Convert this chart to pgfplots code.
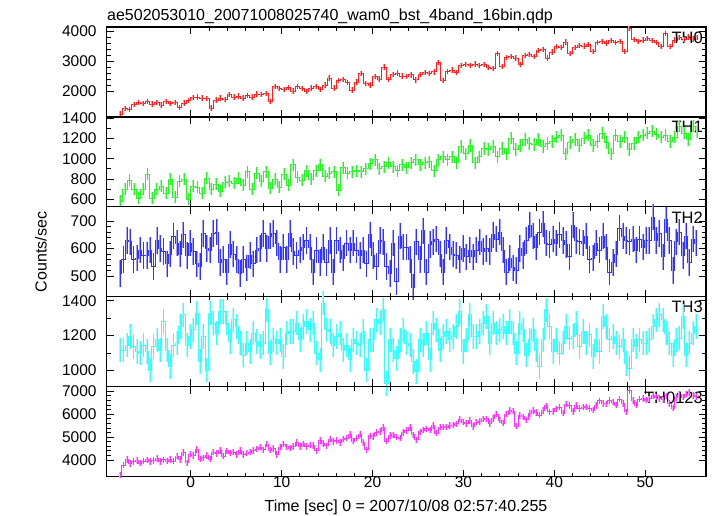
\documentclass[border=0pt]{standalone}
\usepackage{pgfplots}
\usepackage{pgfplotstable}
\pgfplotsset{compat=1.18}
\usepackage{fontspec}
\setmainfont{Liberation Sans}
\definecolor{c0}{rgb}{1,0.12,0.12}
\definecolor{c1}{rgb}{0.15,0.95,0.15}
\definecolor{c2}{rgb}{0.2,0.2,1}
\definecolor{c3}{rgb}{0.2,1,1}
\definecolor{c4}{rgb}{1,0.2,1}

\pgfplotstableread{
t v
-7.75 1230
-7.25 1420
-6.75 1380
-6.25 1540
-5.75 1620
-5.25 1590
-4.75 1640
-4.25 1560
-3.75 1610
-3.25 1530
-2.75 1650
-2.25 1580
-1.75 1620
-1.25 1450
-0.75 1600
-0.25 1680
0.25 1780
0.75 1800
1.25 1760
1.75 1740
2.25 1430
2.75 1700
3.25 1760
3.75 1720
4.25 1880
4.75 1800
5.25 1830
5.75 1760
6.25 1850
6.75 1800
7.25 1900
7.75 1880
8.25 1920
8.75 1650
9.25 2150
9.75 2080
10.25 2050
10.75 2120
11.25 2000
11.75 2150
12.25 2080
12.75 1980
13.25 2100
13.75 2150
14.25 2050
14.75 2200
15.25 2430
15.75 2100
16.25 2350
16.75 2380
17.25 2280
17.75 2030
18.25 2300
18.75 2590
19.25 2250
19.75 2200
20.25 2480
20.75 2400
21.25 2800
21.75 2380
22.25 2550
22.75 2600
23.25 2500
23.75 2480
24.25 2540
24.75 2370
25.25 2560
25.75 2620
26.25 2580
26.75 2640
27.25 2950
27.75 2350
28.25 2650
28.75 2700
29.25 2620
29.75 2850
30.25 2880
30.75 2860
31.25 2900
31.75 2850
32.25 2880
32.75 2780
33.25 2760
33.75 3250
34.25 2820
34.75 3120
35.25 3150
35.75 3100
36.25 2880
36.75 3180
37.25 3220
37.75 3150
38.25 3350
38.75 3380
39.25 3100
39.75 3300
40.25 3480
40.75 3450
41.25 3640
41.75 3250
42.25 3450
42.75 3530
43.25 3500
43.75 3560
44.25 3310
44.75 3620
45.25 3650
45.75 3600
46.25 3680
46.75 3620
47.25 3660
47.75 3310
48.25 4080
48.75 3720
49.25 3650
49.75 3700
50.25 3760
50.75 3680
51.25 3620
51.75 3480
52.25 3920
52.75 3480
53.25 3700
53.75 3780
54.25 3720
54.75 3800
55.25 3740
55.75 3780
}\tzero

\pgfplotstableread{
t v
-7.75 580
-7.25 700
-6.75 790
-6.25 700
-5.75 610
-5.25 700
-4.75 850
-4.25 610
-3.75 700
-3.25 730
-2.75 660
-2.25 800
-1.75 620
-1.25 780
-0.75 800
-0.25 600
0.25 730
0.75 720
1.25 660
1.75 810
2.25 700
2.75 750
3.25 680
3.75 770
4.25 780
4.75 760
5.25 810
5.75 740
6.25 870
6.75 700
7.25 860
7.75 780
8.25 870
8.75 710
9.25 800
9.75 720
10.25 850
10.75 740
11.25 940
11.75 820
12.25 790
12.75 880
13.25 800
13.75 880
14.25 940
14.75 830
15.25 860
15.75 870
16.25 690
16.75 910
17.25 860
17.75 870
18.25 880
18.75 870
19.25 900
19.75 950
20.25 990
20.75 900
21.25 920
21.75 960
22.25 920
22.75 880
23.25 940
23.75 910
24.25 960
24.75 990
25.25 940
25.75 960
26.25 970
26.75 880
27.25 990
27.75 1020
28.25 990
28.75 1020
29.25 960
29.75 1120
30.25 1050
30.75 1130
31.25 960
31.75 1020
32.25 1100
32.75 1090
33.25 1120
33.75 1020
34.25 1100
34.75 1050
35.25 1200
35.75 1090
36.25 1130
36.75 1190
37.25 1150
37.75 1140
38.25 1190
38.75 1120
39.25 1150
39.75 1170
40.25 1210
40.75 1230
41.25 1050
41.75 1160
42.25 1190
42.75 1130
43.25 1200
43.75 1230
44.25 1130
44.75 1170
45.25 1250
45.75 1160
46.25 1050
46.75 1230
47.25 1170
47.75 1210
48.25 1090
48.75 1150
49.25 1210
49.75 1230
50.25 1250
50.75 1270
51.25 1240
51.75 1210
52.25 1230
52.75 1170
53.25 1210
53.75 1320
54.25 1250
54.75 1190
55.25 1320
55.75 1260
}\tone

\pgfplotstableread{
t a b c
-7.77 510 1117 3350
-7.40 560 1117 3780
-7.04 630 1146 4020
-6.67 625 1194 3850
-6.31 560 1137 3940
-5.94 565 1108 3990
-5.57 595 1098 3870
-5.21 575 1146 3950
-4.84 575 1108 4010
-4.47 595 1002 3930
-4.11 535 1137 3990
-3.74 630 1175 4060
-3.37 600 1117 3940
-3.01 590 1280 4010
-2.64 545 1117 3950
-2.28 580 1021 4020
-1.91 645 1146 3960
-1.54 620 1156 4180
-1.18 580 1252 4030
-0.81 650 1319 4330
-0.44 575 1146 3880
-0.08 620 1194 4260
0.29 590 1233 4200
0.65 545 1329 4460
1.02 535 1050 4050
1.39 655 1194 4100
1.75 600 1002 4200
2.12 595 1329 4040
2.49 655 1271 4340
2.85 660 1213 4290
3.22 550 1338 4410
3.59 560 1338 4170
3.95 515 1271 4400
4.32 615 1165 4300
4.68 580 1290 4350
5.05 560 1252 4240
5.42 510 1156 4410
5.78 560 1088 4250
6.15 530 1156 4300
6.52 575 1108 4350
6.88 545 1213 4420
7.25 595 1165 4480
7.61 600 1137 4560
7.98 655 1156 4450
8.35 600 1348 4700
8.71 645 1098 4440
9.08 655 1175 4510
9.45 620 1156 4250
9.81 560 1175 4570
10.18 605 1079 4700
10.55 560 1213 4580
10.91 655 1223 4520
11.28 590 1223 4590
11.64 575 1271 4770
12.01 595 1175 4600
12.38 605 1252 4710
12.74 630 1280 4600
13.11 605 1233 4660
13.48 515 1271 4640
13.84 595 1098 4400
14.21 550 1060 4850
14.57 605 1386 4730
14.94 550 1233 4620
15.31 630 1223 4920
15.67 515 1146 4800
16.04 630 1194 4850
16.41 595 1213 4760
16.77 565 1117 4920
17.14 620 1146 4950
17.50 595 1060 5120
17.87 620 1175 4820
18.24 595 1156 4950
18.60 575 1146 5130
18.97 595 1223 4760
19.34 545 1002 4450
19.70 650 1175 5060
20.07 575 1175 5020
20.44 535 1290 5200
20.80 630 1271 5240
21.17 625 1348 5420
21.53 535 925 4820
21.90 510 1175 5070
22.27 620 1117 5100
22.63 480 1069 5000
23.00 645 1175 4950
23.37 605 1233 5210
23.73 605 1156 5290
24.10 560 1146 5410
24.47 460 1050 5100
24.83 625 992 4880
25.20 560 1175 5230
25.56 665 1146 5300
25.93 515 1213 5360
26.30 615 1060 5310
26.66 625 1271 5500
27.03 635 1233 5180
27.40 580 1117 5430
27.76 515 1194 5450
28.13 630 1223 5440
28.49 605 1175 5510
28.86 580 1194 5520
29.23 575 1252 5580
29.59 560 1338 5780
29.96 600 1108 5660
30.33 570 1175 5600
30.69 595 1319 5720
31.06 570 1194 5470
31.42 595 1194 5650
31.79 625 1223 5670
32.16 590 1271 5790
32.52 600 1310 5800
32.89 590 1156 5600
33.26 650 1271 5810
33.62 635 1213 6000
33.99 660 1233 5740
34.36 595 1252 5610
34.72 515 1213 6010
35.09 565 1280 6150
35.45 530 1213 6140
35.82 520 1098 5480
36.19 600 1271 5940
36.55 575 1233 5880
36.92 630 1088 5750
37.29 685 1175 6020
37.65 645 1233 6150
38.02 605 1117 6080
38.38 660 1021 5960
38.75 690 1175 6150
39.12 620 1348 6360
39.48 615 1252 6100
39.85 635 1108 6110
40.22 620 1175 6230
40.58 650 1098 6300
40.95 630 1156 6050
41.32 615 1252 6440
41.68 570 1185 6370
42.05 685 1194 6110
42.41 630 1271 6370
42.78 625 1137 6240
43.15 620 1223 6300
43.51 645 1156 6320
43.88 560 1204 6250
44.25 565 1079 6180
44.61 620 1175 6370
44.98 595 1108 6580
45.34 645 1310 6460
45.71 605 1252 6450
46.08 515 1175 6590
46.44 550 1194 6520
46.81 580 1156 6400
47.18 675 1137 6660
47.54 645 1175 6460
47.91 630 1040 6100
48.27 625 1012 7020
48.64 635 1175 6600
49.01 595 1137 6400
49.37 635 1175 6660
49.74 605 1156 6680
50.11 630 1156 6610
50.47 630 1175 6670
50.84 715 1252 6800
51.21 630 1290 6740
51.57 655 1319 6680
51.94 570 1290 6620
52.30 705 1213 6800
52.67 630 1156 6470
53.04 520 1088 6260
53.40 625 1175 6730
53.77 660 1185 6870
54.14 575 1310 6750
54.50 645 1088 6870
54.87 550 1156 6950
55.24 635 1213 6820
55.60 620 1252 6760
}\tmix

\newcommand{\fs}{\fontsize{15.5}{18}\selectfont}
\newcommand{\fl}{\fontsize{16}{18}\selectfont}

\pgfplotsset{
  panel/.style={
    scale only axis, width=599.3pt, height=89.9pt, anchor=south west,
    xmin=-9.25, xmax=56.7,
    xtick={0,10,20,30,40,50}, minor x tick num=4,
    xticklabels={},
    scaled y ticks=false,
    tick align=inside,
    major tick length=7pt, minor tick length=4pt,
    every tick/.style={black, line width=0.8pt},
    axis line style={black, line width=1.2pt},
    tick label style={font=\fs, /pgf/number format/assume math mode=true, /pgf/number format/1000 sep={}},
    yticklabel style={anchor=east, inner sep=0pt, xshift=-10pt},
    xticklabel style={anchor=north, inner sep=0pt, yshift=0pt},
  },
  ebl/.style 2 args={only marks, forget plot, color=#1!45, mark=|, mark size=#2,
    mark options={line width=1.8pt}},
  ebd/.style 2 args={only marks, forget plot, color=#1, mark=|, mark size=#2,
    mark options={line width=0.4pt}},
  stp/.style={const plot mark mid, no marks, forget plot, color=#1, line width=0.8pt},
}

\begin{document}
\begin{tikzpicture}
\path[use as bounding box] (0,0) rectangle (717pt,516pt);

\begin{axis}[panel, at={(106.7pt,399pt)}, ymin=1130, ymax=4135,
  ytick={2000,3000,4000}, minor y tick num=4]
\addplot[ebl={c0}{2.69pt}] table[x=t,y=v] {\tzero};
\addplot[ebd={c0}{2.69pt}] table[x=t,y=v] {\tzero};
\addplot[stp=c0] table[x=t,y=v] {\tzero};
\node[anchor=north east, font=\fontsize{16.5}{18}\selectfont, inner sep=0pt] at (rel axis cs:0.995,0.95) {TH0};
\end{axis}

\begin{axis}[panel, at={(106.7pt,309.3pt)}, ymin=527, ymax=1413,
  ytick={600,800,1000,1200,1400}, minor y tick num=1]
\addplot[ebl={c1}{6.09pt}] table[x=t,y=v] {\tone};
\addplot[ebd={c1}{6.09pt}] table[x=t,y=v] {\tone};
\addplot[stp=c1] table[x=t,y=v] {\tone};
\node[anchor=north east, font=\fontsize{16.5}{18}\selectfont, inner sep=0pt] at (rel axis cs:0.995,0.95) {TH1};
\end{axis}

\begin{axis}[panel, at={(106.7pt,219.3pt)}, ymin=425, ymax=752,
  ytick={500,600,700}, minor y tick num=4]
\addplot[ebl={c2}{13.2pt}] table[x=t,y=a] {\tmix};
\addplot[ebd={c2}{13.2pt}] table[x=t,y=a] {\tmix};
\addplot[stp=c2] table[x=t,y=a] {\tmix};
\node[anchor=north east, font=\fontsize{16.5}{18}\selectfont, inner sep=0pt] at (rel axis cs:0.995,0.95) {TH2};
\end{axis}

\begin{axis}[panel, at={(106.7pt,129.7pt)}, ymin=908, ymax=1425,
  ytick={1000,1200,1400}, minor y tick num=1]
\addplot[ebl={c3}{12.2pt}] table[x=t,y=b] {\tmix};
\addplot[ebd={c3}{12.2pt}] table[x=t,y=b] {\tmix};
\addplot[stp=c3] table[x=t,y=b] {\tmix};
\node[anchor=north east, font=\fontsize{16.5}{18}\selectfont, inner sep=0pt] at (rel axis cs:0.995,0.95) {TH3};
\end{axis}

\begin{axis}[panel, at={(106.7pt,39.3pt)}, ymin=3277, ymax=7190,
  ytick={4000,5000,6000,7000}, minor y tick num=4,
  xticklabels={0,10,20,30,40,50}]
\addplot[ebl={c4}{3.22pt}] table[x=t,y=c] {\tmix};
\addplot[ebd={c4}{3.22pt}] table[x=t,y=c] {\tmix};
\addplot[stp=c4] table[x=t,y=c] {\tmix};
\node[anchor=north east, font=\fontsize{16.5}{18}\selectfont, inner sep=0pt] at (rel axis cs:0.995,0.95) {TH0123};
\end{axis}

\node[anchor=base west, font=\fl, inner sep=0pt] at (107pt,495pt) {ae502053010\_20071008025740\_wam0\_bst\_4band\_16bin.qdp};
\node[rotate=90, font=\fl, inner sep=0pt] at (41pt,264pt) {Counts/sec};
\node[anchor=base, font=\fl, inner sep=0pt] at (406pt,4pt) {Time [sec] 0 = 2007/10/08 02:57:40.255};
\end{tikzpicture}
\end{document}
